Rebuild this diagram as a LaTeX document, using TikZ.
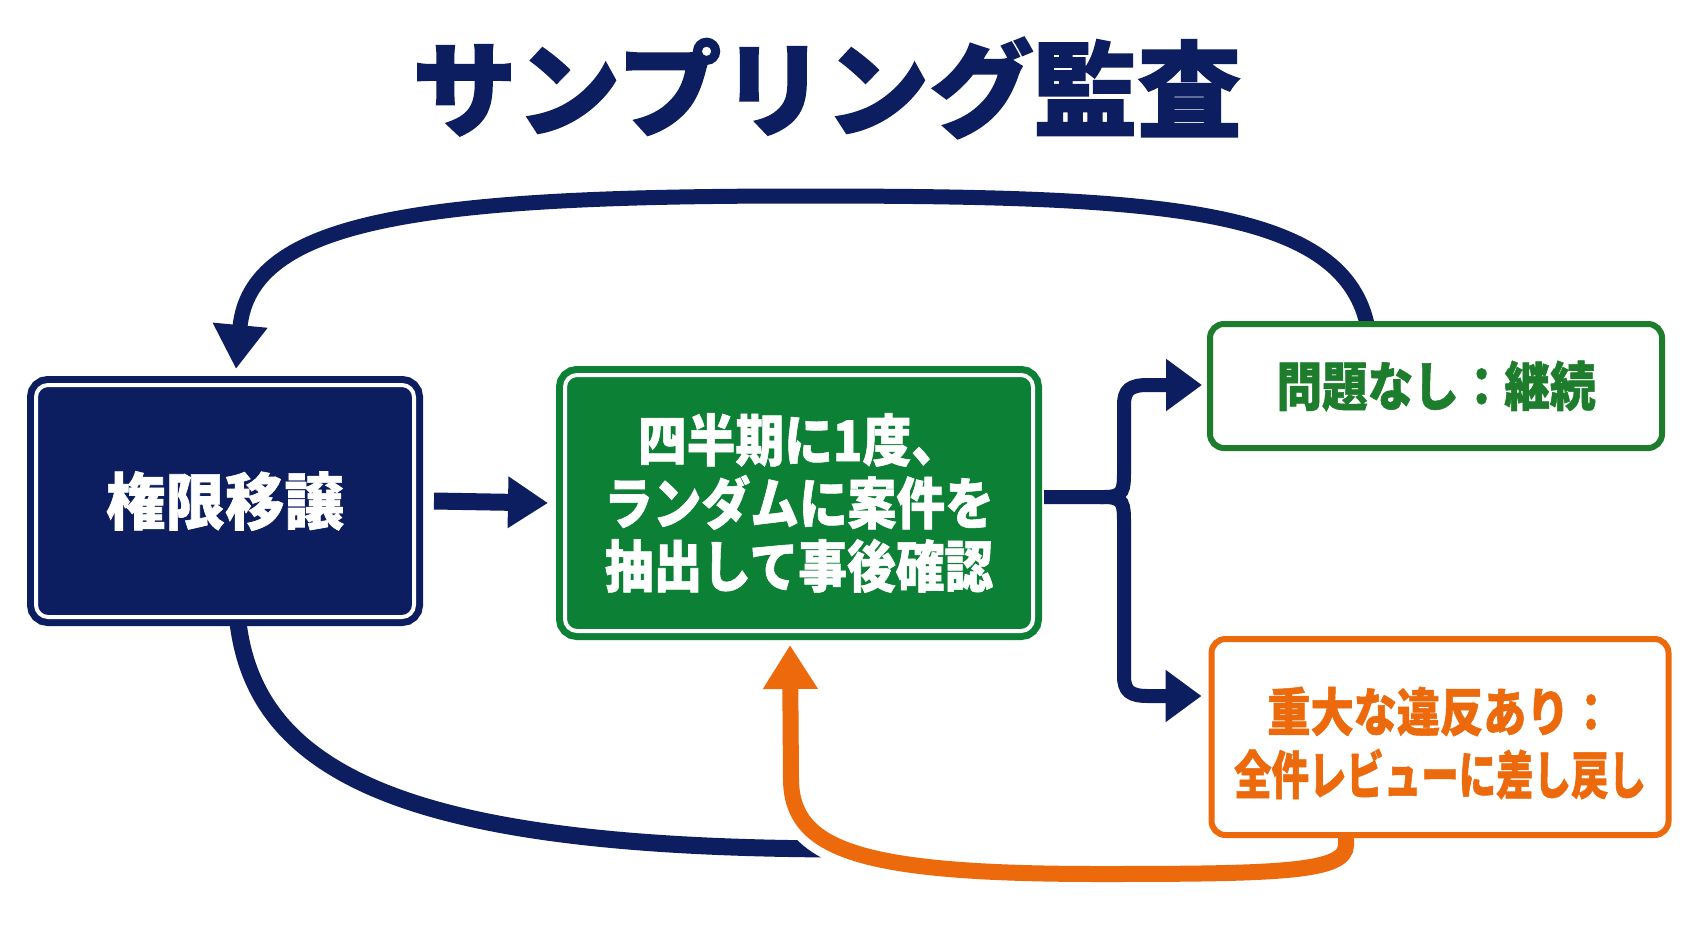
\documentclass[tikz,border=0pt]{standalone}
\usepackage{fontspec}
\usetikzlibrary{arrows.meta}
\newfontfamily\jpTitle{Noto Sans CJK JP}[FakeBold=1.5]
\newfontfamily\jpA{Noto Sans CJK JP}[FakeStretch=0.96,FakeBold=1]
\newfontfamily\jpB{Noto Sans CJK JP}[FakeStretch=0.87,FakeBold=1]
\newfontfamily\jpC{Noto Sans CJK JP}[FakeStretch=0.86,FakeBold=1]
\newfontfamily\jpD{Noto Sans CJK JP}[FakeStretch=0.83,FakeBold=1]
\newfontfamily\jpE{Noto Sans CJK JP}[FakeStretch=0.72,FakeBold=1]
\definecolor{mnavy}{RGB}{12,30,95}
\definecolor{mgreen}{RGB}{12,128,52}
\definecolor{lgreen}{RGB}{30,125,45}
\definecolor{morange}{RGB}{236,106,12}
\pgfdeclarelayer{bg}
\pgfsetlayers{bg,main}
\tikzset{
  solidbox/.style={rectangle, rounded corners=12pt, outer sep=0pt, line width=7pt, double=white, double distance=4pt, align=center, text=white, inner sep=0pt},
  linebox/.style={rectangle, rounded corners=14pt, outer sep=0pt, line width=6pt, fill=white, align=center, inner sep=0pt},
  nline/.style={draw=mnavy, line width=16pt},
  oline/.style={draw=morange, line width=16pt},
  bighead/.style={-{Triangle[length=44pt,width=52pt]}},
  smallhead/.style={-{Triangle[length=36pt,width=50pt]}},
}
\begin{document}
\begin{tikzpicture}[x=1pt,y=-1pt]
\begin{pgfonlayer}{bg}
\fill[white] (0,0) rectangle (1693,929);
\end{pgfonlayer}
\useasboundingbox (0,0) rectangle (1693,929);

\node[text=mnavy, font=\jpTitle\bfseries\fontsize{104}{110}\selectfont] (title) at (827,88) {サンプリング監査};

\node[solidbox, draw=mnavy, fill=mnavy, minimum width=378pt, minimum height=232pt,
      font=\jpA\bfseries\fontsize{62}{70}\selectfont] (deleg) at (225,501) {権限移譲};
\node[solidbox, draw=mgreen, fill=mgreen, minimum width=468pt, minimum height=256pt,
      font=\jpB\bfseries\fontsize{56}{63}\selectfont] (audit) at (799,503) {四半期に1度、\\ランダムに案件を\\抽出して事後確認};
\node[linebox, draw=lgreen, text=lgreen, minimum width=452pt, minimum height=124pt,
      font=\jpC\bfseries\fontsize{53}{63}\selectfont] (ok) at (1436,386) {問題なし：継続};
\node[linebox, draw=morange, minimum width=457pt, minimum height=196pt] (bad) at (1440,737) {};
\node[text=morange, align=center, inner sep=0pt, font=\bfseries\fontsize{52}{63}\selectfont]
  (badtxt) at ([yshift=-6pt]bad.center) {{\jpD\bfseries 重大な違反あり：}\\{\jpE\bfseries 全件レビューに差し戻し}};

\coordinate (navyend) at (850,849);

\begin{pgfonlayer}{bg}
% top return arc
\draw[nline, line width=15pt, bighead] ([xshift=-69pt]ok.north)
  .. controls (1340,205) and (1150,196) .. (800,196)
  .. controls (420,196) and (250,220) .. ([xshift=11pt,yshift=16pt]deleg.north);
% bottom navy curve
\draw[nline, line width=17pt] ([xshift=12pt,yshift=5pt]deleg.south)
  .. controls (250,780) and (420,849) .. (navyend);
% orange return (casing + line)
\draw[white, line width=34pt] ([xshift=-94pt]bad.south) -- (1346,845)
  .. controls (1346,872) and (1280,874) .. (1100,874)
  .. controls (860,874) and (792,850) .. (791,780) -- (790,720);
\draw[oline, bighead] ([xshift=-94pt]bad.south) -- (1346,845)
  .. controls (1346,872) and (1280,874) .. (1100,874)
  .. controls (860,874) and (792,850) .. (791,780)
  -- ([xshift=-9pt,yshift=-14pt]audit.south);
% straight arrow
\draw[nline, line width=17pt, -{Triangle[length=40pt,width=49pt]}] ([xshift=20pt]deleg.east) -- ([xshift=-17pt]audit.west);
% brace
\draw[nline, line width=14pt, smallhead] ([xshift=11pt,yshift=6pt]audit.east) -- (1104,497)
  .. controls (1124,497) and (1124,490) .. (1124,470) -- (1124,405)
  .. controls (1124,390) and (1130,385) .. (1148,385) -- ([xshift=-8pt,yshift=1pt]ok.west);
\draw[nline, line width=14pt, smallhead] (1100,497) -- (1104,497)
  .. controls (1124,497) and (1124,504) .. (1124,524) -- (1124,676)
  .. controls (1124,691) and (1130,696) .. (1148,696) -- ([xshift=-10pt,yshift=41pt]bad.west);
\end{pgfonlayer}
\end{tikzpicture}
\end{document}
